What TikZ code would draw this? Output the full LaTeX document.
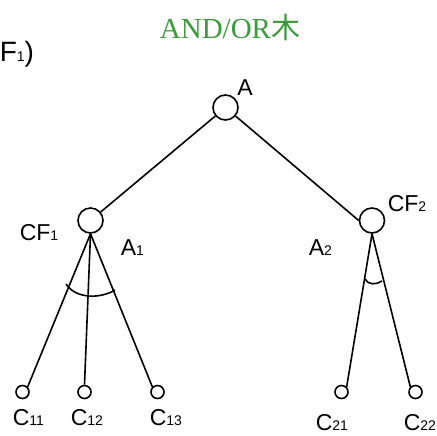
\documentclass[tikz,border=0pt]{standalone}
\usepackage{fontspec}
\setmainfont{Liberation Sans}
\newfontfamily\titelfont{Liberation Serif}
\newfontfamily\cjkfont{Noto Sans CJK SC}
\definecolor{titelgruen}{RGB}{58,155,58}
\newcommand{\idx}[1]{{\fontsize{7}{8}\selectfont #1}}
\usetikzlibrary{
  calc % For coordinate calculations
}

\begin{document}
\begin{tikzpicture}[
      x=0.5pt, y=-0.5pt, % Pixel-Koordinaten
      line width=0.8pt, % Default line thickness
      knoten/.style={circle, draw, inner sep=0pt, minimum size=12.5pt}, % Style for inner nodes
      blatt/.style={circle, draw, inner sep=0pt, minimum size=6.5pt}, % Style for leaves
      beschr/.style={anchor=base west, inner sep=0pt, font=\fontsize{11.5}{13}\selectfont}, % Style for labels
    ]

    \useasboundingbox (0,0) rectangle (437,435);

    % Titel
    \node[anchor=base, inner sep=0pt, text=titelgruen, font=\fontsize{14.5}{16}\selectfont]
      (titel) at (230,38) {{\titelfont AND/OR}{\cjkfont 木}};
    \node[beschr, font=\fontsize{14}{16}\selectfont] (cfrand) at (-1,61.5) {F\idx{1})};

    % Knoten
    \node[knoten] (A)  at (225.5,107.5) {};
    \node[knoten] (A1) at (90.5,220.5) {};
    \node[knoten] (A2) at (372,220.5) {};
    \node[blatt] (C11) at (22.5,392) {};
    \node[blatt] (C12) at (84.5,392) {};
    \node[blatt] (C13) at (157.5,392) {};
    \node[blatt] (C21) at (341.5,392) {};
    \node[blatt] (C22) at (415.5,392) {};

    % Beschriftungen von Knoten
    \node[beschr] (lA)   at (236.5,95)  {A};
    \node[beschr] (lCF1) at (19,240)    {CF\idx{1}};
    \node[beschr] (lA1)  at (120,255)   {A\idx{1}};
    \node[beschr] (lCF2) at (387,211.5) {CF\idx{2}};
    \node[beschr] (lA2)  at (308,255)   {A\idx{2}};
    \node[beschr] (lC11) at (12,425)    {C\idx{11}};
    \node[beschr] (lC12) at (70,425)    {C\idx{12}};
    \node[beschr] (lC13) at (149,425)   {C\idx{13}};
    \node[beschr] (lC21) at (315,430)   {C\idx{21}};
    \node[beschr] (lC22) at (403,430)   {C\idx{22}};

    % Kanten
    \draw (A) -- (A1);
    \draw (A) -- (A2.west);
    \foreach \i/\j in {A1/C11.north east, A1/C12.north, A1/C13.north west, A2/C21.north east, A2/C22.north west}
    \draw (\i.south) -- (\j);

    % UND-Boegen
    \draw (66,284) .. controls (76,299) and (100,299) .. (115,290);
    \draw (365,279) .. controls (368,285) and (376,285) .. (382,281);

  \end{tikzpicture}
\end{document}
